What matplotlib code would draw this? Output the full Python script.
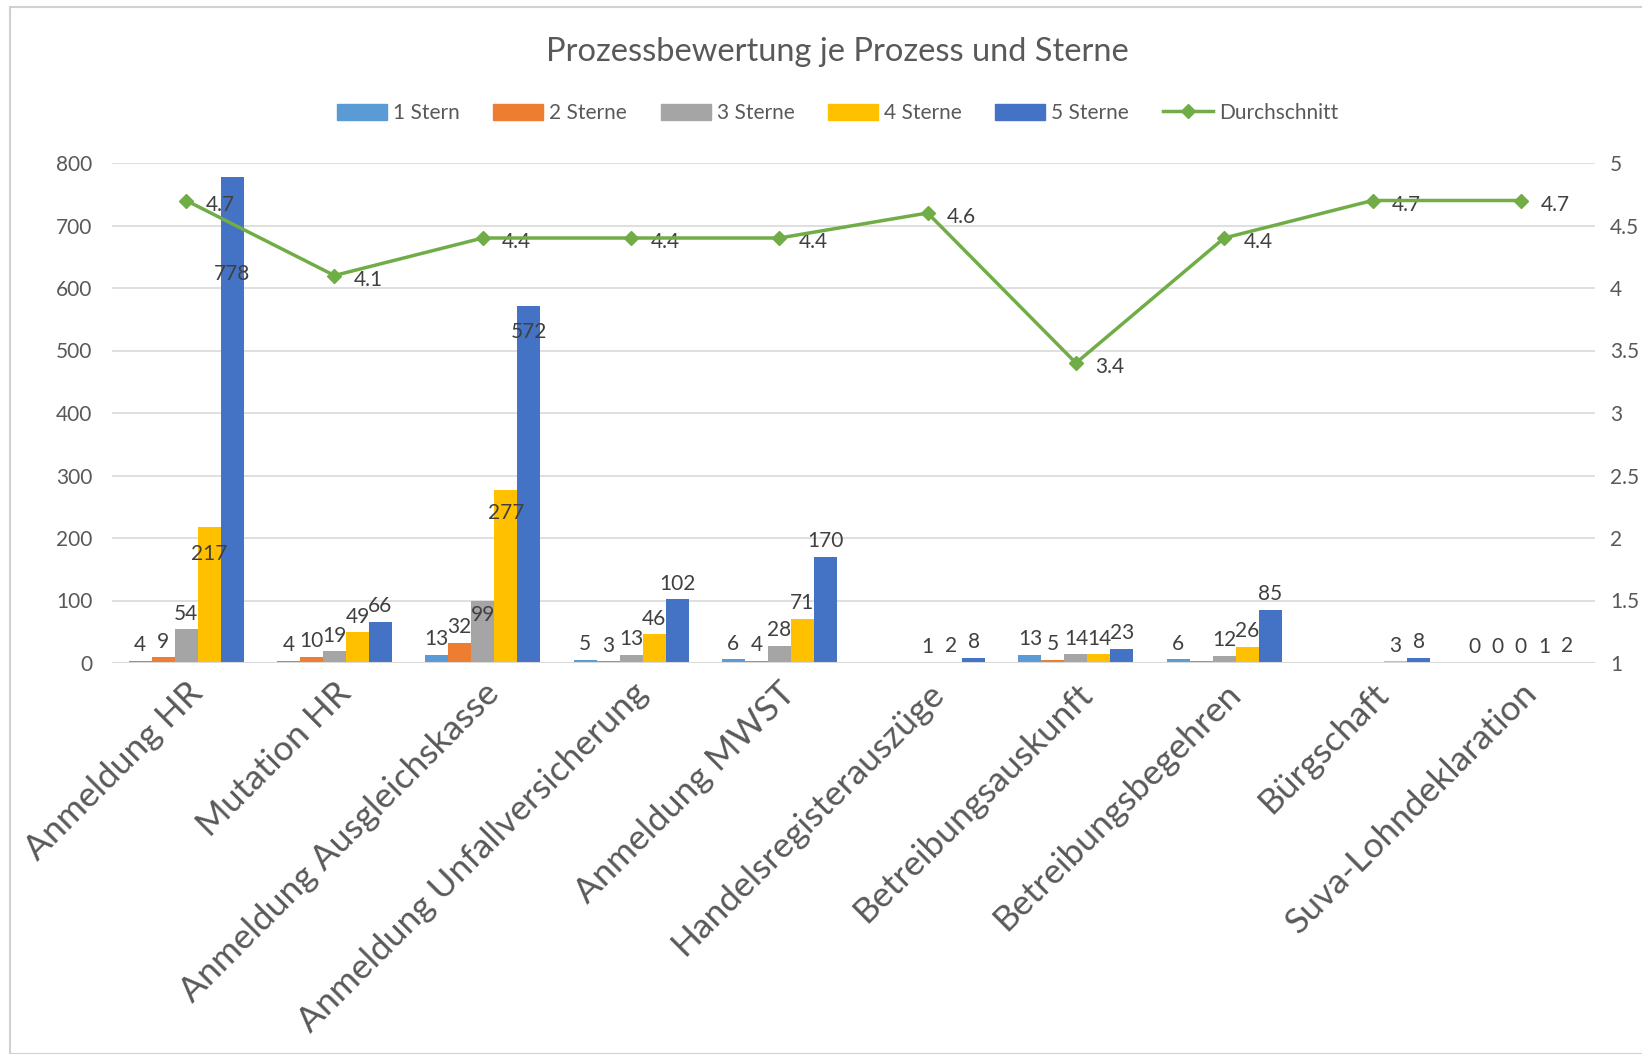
import matplotlib
matplotlib.use("Agg")
import matplotlib.pyplot as plt
import numpy as np
from matplotlib.patches import Rectangle
from matplotlib.lines import Line2D

plt.rcParams['font.family'] = ['Lato', 'DejaVu Sans']

categories = ["Anmeldung HR", "Mutation HR", "Anmeldung Ausgleichskasse",
              "Anmeldung Unfallversicherung", "Anmeldung MWST",
              "Handelsregisterauszüge", "Betreibungsauskunft",
              "Betreibungsbegehren", "Bürgschaft", "Suva-Lohndeklaration"]
series_names = ["1 Stern", "2 Sterne", "3 Sterne", "4 Sterne", "5 Sterne"]
# NaN = no value in the source table
stern1 = [4, 4, 13, 5, 6, np.nan, 13, 6, np.nan, 0]
stern2 = [9, 10, 32, 3, 4, np.nan, 5, 3, np.nan, 0]
stern3 = [54, 19, 99, 13, 28, 1, 14, 12, np.nan, 0]
stern4 = [217, 49, 277, 46, 71, 2, 14, 26, 3, 1]
stern5 = [778, 66, 572, 102, 170, 8, 23, 85, 8, 2]
durchschnitt = [4.7, 4.1, 4.4, 4.4, 4.4, 4.6, 3.4, 4.4, 4.7, 4.7]
left_ticks = [0, 100, 200, 300, 400, 500, 600, 700, 800]
right_ticks = [1, 1.5, 2, 2.5, 3, 3.5, 4, 4.5, 5]

colors = ["#5B9BD5", "#ED7D31", "#A5A5A5", "#FFC000", "#4472C4"]
line_color = "#70AD47"
txt = "#595959"
grid = "#D9D9D9"

# label placement tweaks (style): (series index, category index) -> offset in points
inside = {(4, 0): -70, (4, 2): -19, (3, 0): -19, (3, 2): -17, (2, 2): -10}
hidden = {(1, 7)}

W, H = 1642, 1054
fig = plt.figure(figsize=(W / 100, H / 100), dpi=100)
ax = fig.add_axes([112 / W, 1 - 663 / H, (1595 - 112) / W, (663 - 163) / H])
ax2 = ax.twinx()

data = [stern1, stern2, stern3, stern4, stern5]
x = np.arange(len(categories))
bw = 0.155
for s, vals in enumerate(data):
    v = np.array(vals, dtype=float)
    pos = x + (s - 2) * bw
    ax.bar(pos, np.nan_to_num(v), width=bw, color=colors[s], zorder=3,
           label=series_names[s])
    for i, val in enumerate(v):
        if np.isnan(val) or (s, i) in hidden:
            continue
        off = inside.get((s, i), 4)
        ax.annotate(f"{int(val)}", (pos[i], val), xytext=(0, off),
                    textcoords="offset points", ha="center",
                    va="bottom" if off > 0 else "center",
                    fontsize=15, color="#404040", zorder=5)

ax.set_xlim(-0.5, len(categories) - 0.5)
ax.set_ylim(0, 800)
ax.set_yticks(left_ticks)
ax.set_yticklabels([str(t) for t in left_ticks])
ax.grid(axis="y", color=grid, linewidth=1.2, zorder=0)
ax.set_axisbelow(True)
for sp in ax.spines.values():
    sp.set_visible(False)
for sp in ax2.spines.values():
    sp.set_visible(False)
ax.axhline(0, color=grid, linewidth=1.5, zorder=4)
ax.tick_params(axis="y", length=0, pad=14, labelsize=15, labelcolor=txt)
ax.set_xticks(x)
ax.set_xticklabels(categories, rotation=45, ha="right", rotation_mode="anchor",
                   fontsize=25.5, color=txt)
ax.tick_params(axis="x", length=0, pad=10)

ax2.plot(x, durchschnitt, color=line_color, linewidth=2.5, marker="D",
         markersize=7, zorder=6, label="Durchschnitt")
for i, v in enumerate(durchschnitt):
    ax2.annotate(f"{v}", (i, v), xytext=(14, -3), textcoords="offset points",
                 ha="left", va="center", fontsize=15, color="#404040")
ax2.set_ylim(1, 5)
ax2.set_yticks(right_ticks)
ax2.set_yticklabels([f"{t:g}" for t in right_ticks])
ax2.tick_params(axis="y", length=0, pad=11, labelsize=15, labelcolor=txt)

cx = 0.510
fig.text(cx, 1 - 52 / H, "Prozessbewertung je Prozess und Sterne",
         ha="center", va="center", fontsize=23.5, color=txt)

handles = [Rectangle((0, 0), 1, 1, color=c) for c in colors]
handles.append(Line2D([0], [0], color=line_color, linewidth=2.5, marker="D",
                      markersize=7))
labels = series_names + ["Durchschnitt"]
fig.legend(handles, labels, loc="center", bbox_to_anchor=(cx, 1 - 113 / H),
           ncol=6, frameon=False, fontsize=15, labelcolor=txt,
           handlelength=2.4, handleheight=0.8, handletextpad=0.3,
           columnspacing=1.6)

fig.add_artist(Rectangle((10 / W, 0), 1.2, 1 - 7 / H, transform=fig.transFigure,
                         fill=False, edgecolor="#D0D0D0", linewidth=1.5))

fig.savefig("out.png", dpi=100)
